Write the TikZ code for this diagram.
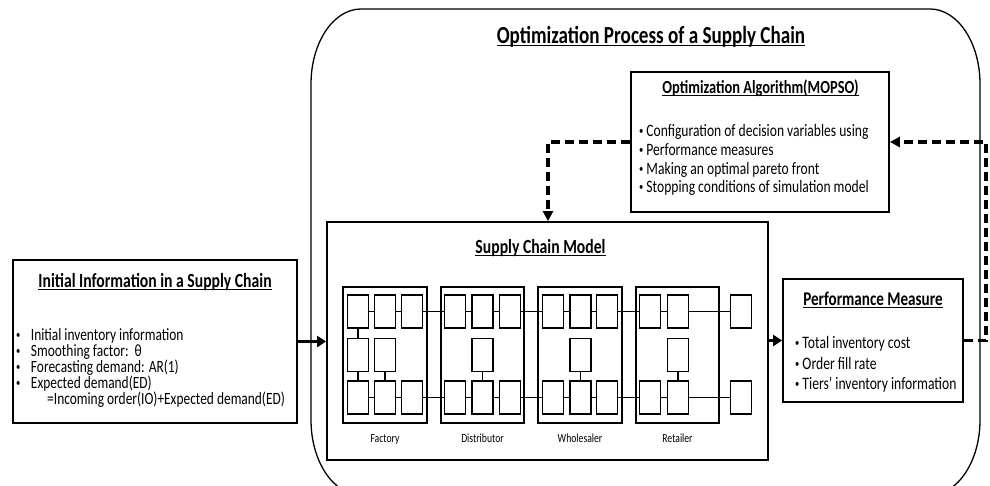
\documentclass[tikz,border=0pt]{standalone}
\usepackage{fontspec}
\setmainfont{Carlito}[FakeStretch=0.78]
\usetikzlibrary{arrows.meta}
\newcommand\ulx[1]{\setbox0\hbox{#1}\rlap{\rule[-3pt]{\wd0}{1.1pt}}\box0}
\newcommand\bul[1][6.5pt]{{\fontsize{11}{11}\selectfont\raisebox{1.5pt}{•}}\hspace{#1}}
\begin{document}
\begin{tikzpicture}[x=1pt,y=-1pt,
  box/.style={draw, line width=1.8pt, inner sep=0pt, fill=white},
  sb/.style={draw, line width=1.8pt, minimum width=21pt, minimum height=33pt, inner sep=0pt, fill=white},
  tier/.style={draw, line width=1.3pt, inner sep=0pt},
  conn/.style={line width=1.4pt},
  ttl/.style={inner sep=0pt, anchor=base, font=\bfseries\fontsize{20.1}{20.1}\selectfont},
  txt/.style={inner sep=0pt, anchor=base west, font=\fontsize{17.2}{17.2}\selectfont},
  lbl/.style={inner sep=0pt, anchor=base, font=\fontsize{12.4}{12.4}\selectfont},
  solidarrow/.style={line width=3.5pt, -{Triangle[length=9pt,width=11pt]}},
  dasharrow/.style={line width=3.5pt, dash pattern=on 9pt off 5pt, -{Triangle[length=10pt,width=10pt]}}
]
\useasboundingbox (0,0) rectangle (990,485);
\clip (0,0) rectangle (990,485);
% outer rounded frame
\draw[line width=1.3pt] (361,9) -- (930,9)
  .. controls (957.6,9) and (980,42.6) .. (980,84) -- (980,420)
  .. controls (980,461.4) and (957.6,495) .. (930,495) -- (361,495)
  .. controls (333.4,495) and (311,461.4) .. (311,420) -- (311,84)
  .. controls (311,42.6) and (333.4,9) .. (361,9) -- cycle;
\node[ttl, font=\bfseries\fontsize{24.5}{24.5}\selectfont] (mainT) at (651,43) {\ulx{Optimization Process of a Supply Chain}};

% boxes
\node[box, minimum width=284pt, minimum height=163pt] (init) at (155,341.5) {};
\node[box, minimum width=441pt, minimum height=238pt] (scm) at (547.5,341) {};
\node[box, minimum width=258pt, minimum height=140pt] (opt) at (760,142) {};
\node[box, minimum width=180pt, minimum height=123pt] (perf) at (873,340.5) {};

% initial information text
\node[ttl] (initT) at (155,287) {\ulx{Initial Information in a Supply Chain}};
\node[txt] (i1) at (16,340) {\bul[10.5pt]Initial inventory information};
\node[txt] (i2) at (16,356) {\bul[10.5pt]Smoothing factor:\ \ θ};
\node[txt] (i3) at (16,372) {\bul[10.5pt]Forecasting demand: AR(1)};
\node[txt] (i4) at (16,388) {\bul[10.5pt]Expected demand(ED)};
\node[txt] (i5) at (47,404) {=Incoming order(IO)+Expected demand(ED)};

% optimization algorithm text
\node[ttl, font=\bfseries\fontsize{18.5}{18.5}\selectfont] (optT) at (760.5,93) {\ulx{Optimization Algorithm(MOPSO)}};
\node[txt, font=\fontsize{17.4}{17.4}\selectfont] (o1) at (639,136) {\bul[3pt]Configuration of decision variables using};
\node[txt, font=\fontsize{17.4}{17.4}\selectfont] (o2) at (639,155) {\bul[3pt]Performance measures};
\node[txt, font=\fontsize{17.4}{17.4}\selectfont] (o3) at (639,174) {\bul[3pt]Making an optimal pareto front};
\node[txt, font=\fontsize{17.4}{17.4}\selectfont] (o4) at (639,192) {\bul[3pt]Stopping conditions of simulation model};

% performance measure text
\node[ttl, font=\bfseries\fontsize{19.4}{19.4}\selectfont] (perfT) at (873,305) {\ulx{Performance Measure}};
\node[txt, font=\fontsize{17.5}{17.5}\selectfont] (p1) at (795,348) {\bul[3pt]Total inventory cost};
\node[txt, font=\fontsize{17.5}{17.5}\selectfont] (p2) at (795,369) {\bul[3pt]Order fill rate};
\node[txt, font=\fontsize{17.5}{17.5}\selectfont] (p3) at (795,389) {\bul[3pt]Tiers’ inventory information};

% supply chain model
\node[ttl] (scmT) at (540.5,253) {\ulx{Supply Chain Model}};
\node[tier, minimum width=84pt, minimum height=136pt] (tF) at (385,355) {};
\node[tier, minimum width=83pt, minimum height=136pt] (tD) at (482.5,355) {};
\node[tier, minimum width=84pt, minimum height=136pt] (tW) at (580,355) {};
\node[tier, minimum width=83pt, minimum height=136pt] (tR) at (677.5,355) {};
\node[lbl] (lF) at (385,442) {Factory};
\node[lbl] (lD) at (482.5,442) {Distributor};
\node[lbl] (lW) at (580,442) {Wholesaler};
\node[lbl] (lR) at (677.5,442) {Retailer};

\foreach \n/\x in {f1/358,f2/385,f3/412,d1/455,d2/482.5,d3/510,w1/553,w2/580.5,w3/607,r1/650,r2/678,x1/741}{
  \node[sb] (\n-a) at (\x,311.5) {};
  \node[sb] (\n-c) at (\x,397.5) {};
}
\foreach \n/\x in {f1/358,f2/385,d2/482.5,w2/580.5,r2/678}{
  \node[sb] (\n-b) at (\x,355) {};
}
\draw[conn] (f1-a) -- (f2-a) -- (f3-a) -- (d1-a) -- (d2-a) -- (d3-a) -- (w1-a) -- (w2-a) -- (w3-a) -- (r1-a) -- (r2-a) -- (x1-a);
\draw[conn] (f1-c) -- (f2-c) -- (f3-c) -- (d1-c) -- (d2-c) -- (d3-c) -- (w1-c) -- (w2-c) -- (w3-c) -- (r1-c) -- (r2-c) -- (x1-c);
\draw[conn] (f1-a) -- (f1-b);
\draw[conn] (f1-b) -- (f1-c);
\draw[conn] (f2-b) -- (f2-c);
\draw[conn] (d2-b) -- (d2-c);
\draw[conn] (w2-b) -- (w2-c);
\draw[conn] (r2-b) -- (r2-c);

% arrows
\draw[solidarrow] (init.east) -- (init.east -| scm.west);
\draw[solidarrow] (scm.east |- perf.west) -- (perf.west);
\coordinate (rc) at (986,142);
\coordinate (lc) at (548,142);
\draw[dasharrow] (perf.east) -| (rc) -- (opt.east);
\draw[dasharrow] (opt.west) -- (lc) -- (lc |- scm.north);
\end{tikzpicture}
\end{document}
